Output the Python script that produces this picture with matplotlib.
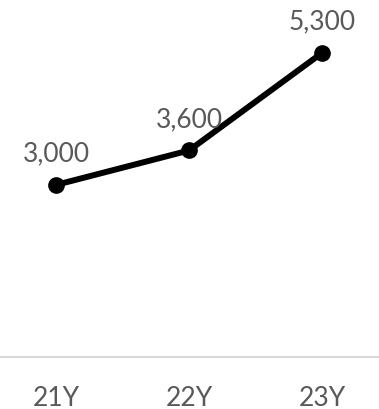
import matplotlib.pyplot as plt

plt.rcParams['font.family'] = ['Lato', 'DejaVu Sans']

years = ['21Y', '22Y', '23Y']
values = [3000, 3600, 5300]
labels = ['3,000', '3,600', '5,300']

fig = plt.figure(figsize=(3.79, 4.10), dpi=100)
ax = fig.add_axes([0, 52/410, 1, 358/410])

x = range(len(years))
ax.plot(x, values, color='black', lw=4.3, marker='o', ms=11, solid_capstyle='round')
for i, v in enumerate(values):
    ax.annotate(labels[i], (i, v), xytext=(0, 23), textcoords='offset points',
                ha='center', va='center', fontsize=19, color='#595959')

ax.set_xlim(-0.421, 2.429)
ax.set_ylim(0, 6241)
ax.set_xticks(list(x))
ax.set_xticklabels(years, fontsize=19, color='#595959')
ax.tick_params(axis='x', length=0, pad=20)
ax.set_yticks([])
for s in ['top', 'left', 'right']:
    ax.spines[s].set_visible(False)
ax.spines['bottom'].set_color('#d9d9d9')
ax.spines['bottom'].set_linewidth(1.5)

fig.savefig('out.png', dpi=100)
